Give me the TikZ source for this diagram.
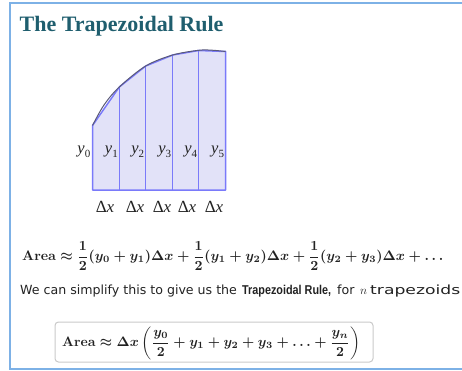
\documentclass[tikz,border=0pt]{standalone}
\usepackage[no-math]{fontspec}
\usepackage{amsmath}
\usepackage{graphicx}
\setmainfont{Liberation Serif}
\newfontfamily\textsans{DejaVu Sans}
\newfontfamily\boldsans{Liberation Sans}
\definecolor{framecol}{HTML}{7DB1E6}
\definecolor{titlecol}{HTML}{1F5E6E}
\definecolor{trapfill}{HTML}{E2E2F8}
\definecolor{trapline}{HTML}{7A7AFA}
\definecolor{curvecol}{HTML}{5A5A78}
\definecolor{boxline}{HTML}{C9C9C9}
\definecolor{inkcol}{HTML}{222222}
\newcommand{\yLab}[1]{\textit{y}\raisebox{-0.2em}{\fontsize{11}{11}\selectfont #1}}
\tikzset{
  framestyle/.style={draw=framecol, line width=1.3pt},
  titlestyle/.style={anchor=base west, inner sep=0pt, text=titlecol, font=\fontsize{22}{24}\selectfont\bfseries},
  ylabstyle/.style={anchor=base east, inner sep=0pt, text=inkcol, font=\fontsize{16.5}{16}\selectfont},
  dxstyle/.style={anchor=base, inner sep=0pt, text=inkcol, font=\fontsize{17}{17}\selectfont},
  trapstyle/.style={fill=trapfill, draw=trapline, line width=1.5pt, line join=round},
  vline/.style={draw=trapline, line width=1.5pt},
  curvestyle/.style={draw=curvecol, line width=1pt},
  mathstyle/.style={inner sep=0pt, text=inkcol},
  sansstyle/.style={anchor=base west, inner sep=0pt, text=inkcol, font=\textsans\fontsize{12.6}{14}\selectfont},
  boxstyle/.style={draw=boxline, line width=1pt, rounded corners=3.5pt, minimum width=318pt, minimum height=40pt, inner sep=0pt}
}
\begin{document}
\begin{tikzpicture}[x=1pt,y=-1pt]
\useasboundingbox (0,0) rectangle (462,371);
\clip (0,0) rectangle (462,371);
% frame
\draw[framestyle] (463,3) -- (10,3) -- (10,369) -- (463,369);
% title
\node[titlestyle] (title) at (19.5,32) {The Trapezoidal Rule};
% trapezoids
\coordinate (p0) at (92.5,125.5);
\coordinate (p1) at (119.3,87);
\coordinate (p2) at (145.7,66);
\coordinate (p3) at (172.7,55);
\coordinate (p4) at (198.7,50.5);
\coordinate (p5) at (225.5,51.5);
\coordinate (b0) at (92.5,190);
\coordinate (b1) at (119.3,190);
\coordinate (b2) at (145.7,190);
\coordinate (b3) at (172.7,190);
\coordinate (b4) at (198.7,190);
\coordinate (b5) at (225.5,190);
\path[trapstyle] (b0) -- (p0) -- (p1) -- (p2) -- (p3) -- (p4) -- (p5) -- (b5) -- cycle;
\foreach \i in {1,2,3,4} { \draw[vline] (b\i) -- (p\i); }
\draw[curvestyle] plot[smooth, tension=0.55] coordinates {(92.5,125.5) (104,105) (119.3,87) (145.7,66) (172.7,55) (198.7,50.3) (212,50.2) (225.5,51.5)};
% y labels
\node[ylabstyle] (y0) at (90.5,154) {\yLab{0}};
\node[ylabstyle] (y1) at (118,154) {\yLab{1}};
\node[ylabstyle] (y2) at (144.4,154) {\yLab{2}};
\node[ylabstyle] (y3) at (171.4,154) {\yLab{3}};
\node[ylabstyle] (y4) at (197.4,154) {\yLab{4}};
\node[ylabstyle] (y5) at (224.2,154) {\yLab{5}};
% delta x labels
\node[dxstyle] (d1) at (105,212) {Δ\textit{x}};
\node[dxstyle] (d2) at (135,212) {Δ\textit{x}};
\node[dxstyle] (d3) at (162,212) {Δ\textit{x}};
\node[dxstyle] (d4) at (187,212) {Δ\textit{x}};
\node[dxstyle] (d5) at (214,212) {Δ\textit{x}};
% formula 1
\node[mathstyle, anchor=west] (f1) at (22,256) {\resizebox{421pt}{!}{\boldmath$\displaystyle \mathbf{Area} \approx \frac{1}{2}(y_0+y_1)\Delta x + \frac{1}{2}(y_1+y_2)\Delta x + \frac{1}{2}(y_2+y_3)\Delta x + \ldots$}};
% sentence
\node[sansstyle] (s1) at (20,294) {We can simplify this to give us the};
\node[sansstyle] (s2) at (242,294) {\resizebox{89pt}{\height}{\boldsans\bfseries\fontsize{12.8}{14}\selectfont Trapezoidal Rule,}};
\node[sansstyle] (s3) at (337,294) {for};
\node[sansstyle, font=\fontsize{13}{14}\selectfont] (s4) at (360,294) {$n$};
\node[sansstyle] (s5) at (370,294) {\resizebox{90pt}{\height}{trapezoids}};
% boxed formula
\node[boxstyle] (box) at (214,342) {};
\node[mathstyle, anchor=west] (f2) at (62,343) {\resizebox{298pt}{!}{\boldmath$\displaystyle \mathbf{Area} \approx \Delta x\left(\frac{y_0}{2}+y_1+y_2+y_3+\ldots+\frac{y_n}{2}\right)$}};
\end{tikzpicture}
\end{document}
